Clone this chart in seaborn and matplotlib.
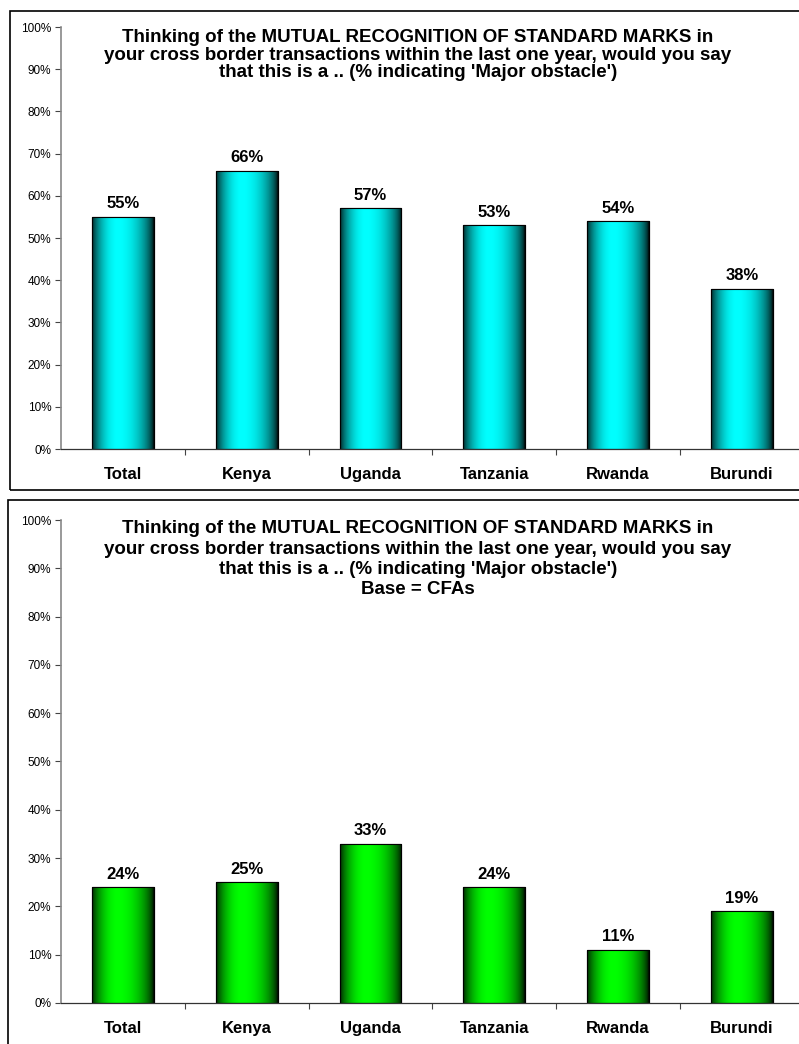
import numpy as np
import pandas as pd
import matplotlib
matplotlib.use("Agg")
import matplotlib.pyplot as plt
import seaborn as sns
from matplotlib.patches import Rectangle
from matplotlib.ticker import FixedLocator, PercentFormatter

sns.set_theme(style="white")
plt.rcParams['font.family'] = ['Liberation Sans', 'DejaVu Sans']
plt.rcParams['text.color'] = 'black'
plt.rcParams['xtick.color'] = 'black'
plt.rcParams['ytick.color'] = 'black'

categories = ["Total", "Kenya", "Uganda", "Tanzania", "Rwanda", "Burundi"]
values_all = [55, 66, 57, 53, 54, 38]
values_cfa = [24, 25, 33, 24, 11, 19]
title_all = ["Thinking of the MUTUAL RECOGNITION OF STANDARD MARKS in",
             "your cross border transactions within the last one year, would you say",
             "that this is a .. (% indicating 'Major obstacle')"]
title_cfa = title_all + ["Base = CFAs"]
yticks = list(range(0, 101, 10))

fig = plt.figure(figsize=(7.99, 10.44), dpi=100)

# panel frames
fig.patches.append(Rectangle((0.0125, 0.5307), 1.0, 0.4588, transform=fig.transFigure,
                             fill=False, edgecolor='black', linewidth=1.2))
fig.patches.append(Rectangle((0.010, -0.02), 1.0, 0.5411, transform=fig.transFigure,
                             fill=False, edgecolor='black', linewidth=1.2))


def gradient_profile(n=256):
    x = np.linspace(0, 1, n)
    peak = 0.42
    t = np.where(x < peak,
                 0.10 + 0.90 * np.sin(np.clip(x / peak, 0, 1) * np.pi / 2) ** 0.7,
                 np.cos(np.clip((x - peak) / (1 - peak), 0, 1) * np.pi / 2) ** 0.6)
    return t


def draw_panel(rect, vals, base_rgb, title_lines, title_top, line_gap):
    ax = fig.add_axes(rect)
    df = pd.DataFrame({"cat": categories, "val": vals})
    sns.barplot(data=df, x="cat", y="val", ax=ax, color=base_rgb, width=0.5,
                edgecolor='black', linewidth=0.8, saturation=1)
    t = gradient_profile()
    img = np.ones((1, len(t), 3)) * np.array(base_rgb)[None, None, :] * t[None, :, None]
    for p in ax.patches:
        x0, w, h = p.get_x(), p.get_width(), p.get_height()
        im = ax.imshow(img, extent=[x0, x0 + w, 0, h], aspect='auto', zorder=p.get_zorder() + 0.1,
                       interpolation='bilinear')
        im.set_clip_path(p)
        edge = Rectangle((x0, 0), w, h, fill=False, edgecolor='black', linewidth=0.8,
                         zorder=p.get_zorder() + 0.2)
        ax.add_patch(edge)
    ax.bar_label(ax.containers[0], labels=[f"{v}%" for v in vals], padding=4,
                 fontsize=12, fontweight='bold', color='black')
    ax.set_xlim(-0.5, len(categories) - 0.5)
    ax.set_ylim(0, 100)
    ax.set_yticks(yticks)
    ax.yaxis.set_major_formatter(PercentFormatter(decimals=0))
    ax.tick_params(axis='y', labelsize=8.5, length=4, width=0.8, color='#444444',
                   left=True, direction='out', pad=3, labelcolor='black')
    ax.tick_params(axis='x', which='major', length=0, labelsize=12, pad=13, labelcolor='black')
    ax.xaxis.set_minor_locator(FixedLocator(np.arange(0.5, len(categories) - 0.5, 1)))
    ax.tick_params(axis='x', which='minor', bottom=True, length=4, width=0.8, color='#444444',
                   direction='out')
    for lab in ax.get_xticklabels():
        lab.set_fontweight('bold')
    ax.set_xlabel("")
    ax.set_ylabel("")
    ax.spines['top'].set_visible(False)
    ax.spines['right'].set_visible(False)
    ax.spines['left'].set_color('#888888')
    ax.spines['left'].set_linewidth(1.2)
    ax.spines['bottom'].set_color('#333333')
    ax.spines['bottom'].set_linewidth(0.9)
    ax.set_facecolor('none')
    for i, line in enumerate(title_lines):
        fig.text(0.523, title_top - i * line_gap, line, ha='center', va='baseline',
                 fontsize=13.5, fontweight='bold', color='black')
    return ax


draw_panel([0.07635, 0.5699, 0.9297, 0.4042], values_all, (0.0, 1.0, 1.0),
           title_all, 1 - 42 / 1044, 17.5 / 1044)
draw_panel([0.07635, 0.0393, 0.9297, 0.4626], values_cfa, (0.0, 1.0, 0.0),
           title_cfa, 1 - 533 / 1044, 20.5 / 1044)

fig.savefig("out.png", dpi=100)
